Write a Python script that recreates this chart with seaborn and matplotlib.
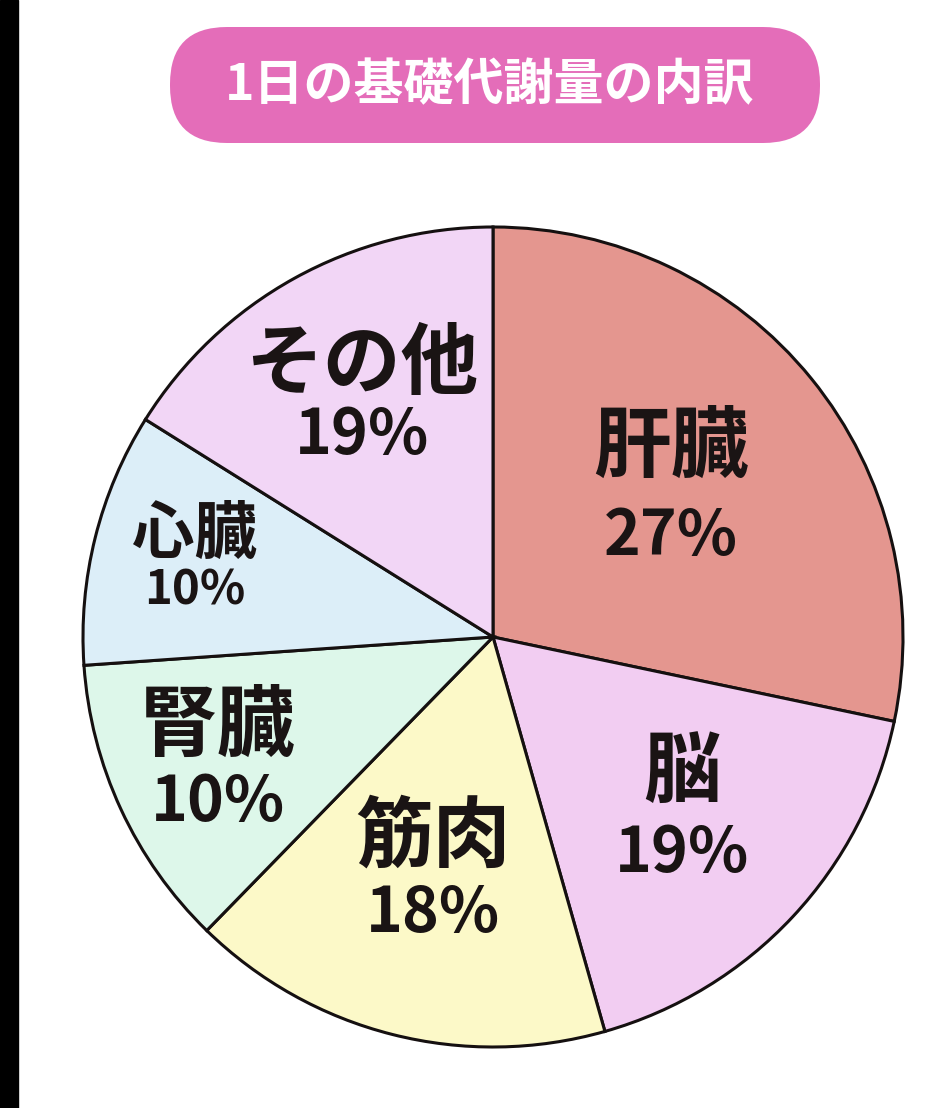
import numpy as np
import seaborn as sns
import matplotlib.pyplot as plt
from matplotlib.patches import FancyBboxPatch, Rectangle

# data
organs = ["肝臓", "脳", "筋肉", "腎臓", "心臓", "その他"]
pct_labels = ["27%", "19%", "18%", "10%", "10%", "19%"]
# wedge sizes as drawn (measured angles, % of the circle)
wedge_share = [28.3, 17.3, 16.7, 11.6, 10.0, 16.1]
slice_colors = ["#E4968F", "#F2CDF2", "#FCF9C8", "#DDF7EA", "#DCEEF8", "#F2D6F6"]
title = "1日の基礎代謝量の内訳"


def plot_bmr_pie():
    W, H = 944, 1108
    fig = plt.figure(figsize=(W / 100, H / 100), dpi=100)
    fig.patch.set_facecolor("white")

    # pie axes: centre (493, 637) px, radius 410 px
    cx, cy, r, lim = 493, 637, 410, 1.05
    half = r * lim
    ax = fig.add_axes([(cx - half) / W, (H - cy - half) / H, 2 * half / W, 2 * half / H])
    wedges, _ = ax.pie(wedge_share, colors=slice_colors, startangle=90, counterclock=False,
                       wedgeprops=dict(edgecolor="#151010", linewidth=2.2, antialiased=True))
    ax.set_xlim(-lim, lim)
    ax.set_ylim(-lim, lim)
    ax.set_aspect("equal")
    ax.axis("off")

    # label placement (radial distance of the label block, sizes)
    label_radius = [0.56, 0.63, 0.60, 0.74, 0.75, 0.66]
    name_size = [56, 56, 56, 56, 45, 56]
    pct_size = [45, 45, 45, 45, 34, 45]
    half_gap = [0.107, 0.098, 0.092, 0.092, 0.068, 0.085]
    ink = "#1A1414"
    for w, name, pct, lr, ns, ps, g in zip(wedges, organs, pct_labels, label_radius,
                                            name_size, pct_size, half_gap):
        mid = np.deg2rad((w.theta1 + w.theta2) / 2)
        x, y = lr * np.cos(mid), lr * np.sin(mid)
        ax.text(x, y + g, name, ha="center", va="center", fontsize=ns,
                fontweight="bold", color=ink)
        ax.text(x, y - g, pct, ha="center", va="center", fontsize=ps,
                fontweight="semibold", color=ink)

    # overlay in pixel units for the title pill and the black strip at the left
    top = fig.add_axes([0, 0, 1, 1], zorder=-1)
    top.set_xlim(0, W)
    top.set_ylim(H, 0)
    top.axis("off")
    top.add_patch(Rectangle((0, 0), 18, H, color="black"))
    top.add_patch(FancyBboxPatch((170, 27), 650, 116,
                                 boxstyle="round,pad=0,rounding_size=57",
                                 facecolor="#E46DB9", edgecolor="none"))
    top.text(490, 86, title, ha="center", va="center", fontsize=36,
             color="white", fontweight="bold")

    fig.savefig("out.png", dpi=100, facecolor="white")


if __name__ == "__main__":
    sns.set_theme()
    sns.set_style("white")
    plt.rcParams["font.family"] = ["Noto Sans CJK JP", "DejaVu Sans"]
    plot_bmr_pie()
